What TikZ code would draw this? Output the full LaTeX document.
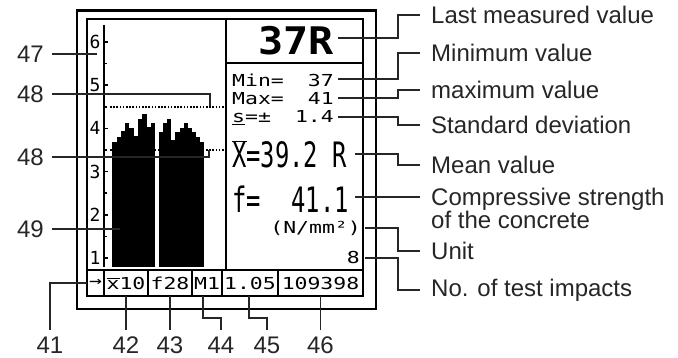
\documentclass[tikz,border=0pt]{standalone}
\usepackage{fontspec}
\setmainfont{Liberation Sans}
\newfontfamily\lcdfont[FakeStretch=1.3]{DejaVu Sans Mono}
\newfontfamily\lcdtall[FakeStretch=0.68]{DejaVu Sans Mono}
\newfontfamily\lcdbig[FakeStretch=1.1]{DejaVu Sans Mono}
\newfontfamily\lcdaxis{DejaVu Sans Mono}
\usetikzlibrary{positioning}

\begin{document}
\begin{tikzpicture}[
    x=1pt, y=-1pt,
    frame/.style={draw=black, line width=2.6pt},
    panel/.style={draw=black, line width=2pt},
    callout/.style={draw=black!85, line width=1.1pt},
    note/.style={font=\fontsize{24}{23}\selectfont, text=black!85, inner xsep=11pt, inner ysep=0pt, anchor=west, align=left},
    tag/.style={font=\fontsize{24}{24}\selectfont, text=black!85, inner xsep=8pt, inner ysep=1pt},
    lcd/.style={font=\lcdfont\fontsize{16.5}{16.5}\selectfont, inner sep=0pt},
    tall/.style={font=\lcdtall\fontsize{35}{35}\selectfont, inner sep=0pt},
    big/.style={font=\lcdbig\bfseries\fontsize{38}{38}\selectfont, inner sep=0pt},
    cell/.style={draw=black, line width=2pt, minimum height=26pt, inner sep=0pt, outer sep=0pt, font=\lcdfont\fontsize{16.5}{16.5}\selectfont},
    tick/.style={line width=1.5pt},
    limit/.style={line width=1.6pt, dash pattern=on 1.6pt off 1.6pt}
  ]
  \useasboundingbox (0,0) rectangle (678,358);

  \draw[frame] (77,10.5) rectangle (376,309);
  \draw[panel] (87,19) rectangle (363,296);
  \draw[panel] (226,19) -- (226,270);
  \draw[panel] (226,63) -- (363,63);

  % histogram
  \draw[panel] (104,25) -- (104,267);
  \foreach \v in {1,...,6} {
    \draw[tick] (104,{258-43.2*(\v-1)}) -- ++(3.5,0);
    \node[font=\lcdaxis\fontsize{18}{18}\selectfont, inner sep=0pt] (ax\v) at (95,{258-43.2*(\v-1)}) {\v};
  }
  \foreach \v in {1,...,5}
    \draw[tick] (104,{258-43.2*(\v-0.5)}) -- ++(3,0);
  \draw[limit] (110,107) -- (226,107);
  \draw[limit] (110,150) -- (226,150);
  \foreach \t [count=\i from 0] in {141.7,136.7,131.5,123.5,128,136.5,119,114.5,127.5,123.5}
    \fill ({112.3+4.27*\i},267) rectangle ({112.3+4.27*(\i+1)+0.1},\t);
  \foreach \t [count=\i from 0] in {131.7,123.3,119,140.5,131.7,127.7,123.3,127.7,132.3,136.7,141.7}
    \fill ({159+4.1*\i},267) rectangle ({159+4.1*(\i+1)+0.1},\t);

  % readings
  \node[big, anchor=base east] (tLast) at (334,55) {37R};
  \node[lcd, anchor=base west] (tMin) at (232,87) {Min=};
  \node[lcd, anchor=base east] (vMin) at (334,87) {37};
  \node[lcd, anchor=base west] (tMax) at (232,105) {Max=};
  \node[lcd, anchor=base east] (vMax) at (334,105) {41};
  \node[lcd, anchor=base west] (tDev) at (232,123) {\underline{s}=±};
  \node[lcd, anchor=base east] (vDev) at (334,123) {1.4};
  \node[tall, anchor=base west] (tMean) at (232,168) {$\overline{\hbox{X}}$=39.2 R};
  \node[tall, anchor=base west] (tForce) at (232,213) {f=};
  \node[tall, anchor=base east] (vForce) at (349,213) {41.1};
  \node[lcd, anchor=base east] (tUnit) at (361,234) {(N/mm²)};
  \node[lcd, anchor=base east] (tCount) at (360,264) {8};

  % status bar
  \node[cell, minimum width=17pt, anchor=north west] (cArrow) at (87,270) {→};
  \node[cell, minimum width=44pt, right=0pt of cArrow] (cMean) {$\overline{\hbox{x}}$10};
  \node[cell, minimum width=44pt, right=0pt of cMean] (cForm) {f28};
  \node[cell, minimum width=30pt, right=0pt of cForm] (cMode) {M1};
  \node[cell, minimum width=56pt, right=0pt of cMode] (cFactor) {1.05};
  \node[cell, minimum width=85pt, right=0pt of cFactor] (cSerial) {109398};

  % right callouts
  \node[note] (lLast) at (420,15) {Last measured value};
  \node[note] (lMin) at (420,53) {Minimum value};
  \node[note] (lMax) at (420,90) {maximum value};
  \node[note] (lDev) at (420,125) {Standard deviation};
  \node[note] (lMean) at (420,165) {Mean value};
  \node[note] (lForce) at (420,208.5) {Compressive strength\\of the concrete};
  \node[note] (lUnit) at (420,251) {Unit};
  \node[note] (lCount) at (420,290) {No. of test impacts};
  \coordinate (knee) at (398,0);
  \coordinate (pLast) at (338,38);
  \coordinate (pMin) at (338,79);
  \coordinate (pMax) at (338,98);
  \coordinate (pDev) at (338,117);
  \coordinate (pMean) at (355,154);
  \coordinate (pForce) at (355,197);
  \coordinate (pUnit) at (365,228);
  \coordinate (pCount) at (365,258);
  \foreach \p/\l in {pLast/lLast, pMin/lMin, pMax/lMax, pDev/lDev, pMean/lMean, pUnit/lUnit, pCount/lCount}
    \draw[callout] (\p) -- (\p -| knee) |- (\l.west);
  \draw[callout] (pForce) -- (pForce -| lForce.west);

  % left callouts
  \node[tag, anchor=east] (n47) at (52,54) {47};
  \node[tag, anchor=east] (n48a) at (52,94) {48};
  \node[tag, anchor=east] (n48b) at (52,157) {48};
  \node[tag, anchor=east] (n49) at (52,229) {49};
  \coordinate (p47) at (97,54);
  \coordinate (p48a) at (210,106);
  \coordinate (p48b) at (209,150);
  \coordinate (p49) at (120,229);
  \draw[callout] (n47.east) -- (p47);
  \draw[callout] (n48a.east) -| (p48a);
  \draw[callout] (n48b.east) -| (p48b);
  \draw[callout] (n49.east) -- (p49);

  % bottom callouts
  \coordinate (base) at (0,336);
  \node[tag, anchor=north] (n41) at (50,336) {41};
  \node[tag, anchor=north] (n42) at (cMean.south |- base) {42};
  \node[tag, anchor=north] (n43) at (cForm.south |- base) {43};
  \node[tag, anchor=north] (n44) at (221,336) {44};
  \node[tag, anchor=north] (n45) at (267,336) {45};
  \node[tag, anchor=north] (n46) at (cSerial.south |- base) {46};
  \draw[callout] (cArrow.west) -| ([yshift=6pt]n41.north);
  \draw[callout] (cMean.south) -- ([yshift=6pt]n42.north);
  \draw[callout] (cForm.south) -- ([yshift=6pt]n43.north);
  \draw[callout] ([xshift=-4pt]cMode.south) -- ++(0,22) -| ([yshift=6pt]n44.north);
  \draw[callout] ([xshift=-1pt]cFactor.south) -- ++(0,22) -| ([yshift=6pt]n45.north);
  \draw[callout] (cSerial.south) -- ([yshift=6pt]n46.north);
\end{tikzpicture}
\end{document}
